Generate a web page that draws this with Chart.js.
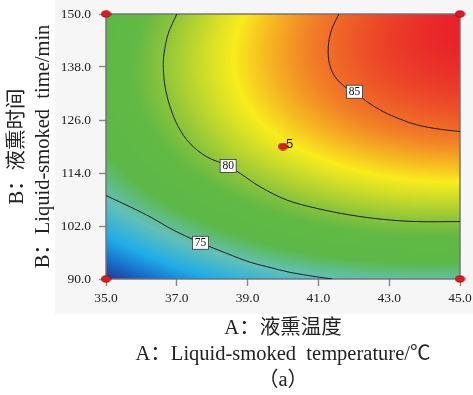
<!DOCTYPE html>
<html>
<head>
<meta charset="utf-8">
<script src="https://cdn.jsdelivr.net/npm/chart.js@4/dist/chart.umd.min.js"></script>
<style>
  html, body { margin: 0; padding: 0; background: #fff; }
</style>
</head>
<body>
<canvas id="c" width="473" height="395"></canvas>
<script>
// tick values on both axes
const tempTicks = [35, 37, 39, 41, 43, 45];
const timeTicks = [90, 102, 114, 126, 138, 150];

// response at every tick crossing
// rows: time 90 -> 150, cols: temperature 35 -> 45
const response = [
  [69.9, 72.1, 73.7, 74.8, 75.3, 75.3],
  [73.6, 75.8, 77.6, 78.9, 79.6, 79.7],
  [76.1, 78.5, 80.5, 81.9, 82.8, 83.1],
  [77.5, 80.1, 82.3, 83.9, 85.0, 85.5],
  [77.8, 80.7, 83.0, 84.8, 86.1, 86.7],
  [77.1, 80.2, 82.7, 84.7, 86.1, 87.0]
];

// contour lines (temperature, time)
const c75Temp = [35, 35.77, 36.24, 36.9, 37.67, 38.41, 39.07, 39.54, 40.2, 40.95, 41.4];
const c75Time = [108.9, 106.0, 104.1, 101.1, 98.2, 95.8, 93.8, 92.8, 91.5, 90.5, 90];
const c80Temp = [37.0, 36.76, 36.64, 36.62, 36.67, 36.81, 37.04, 37.37, 37.84, 38.45, 38.79, 39.35, 40.1, 40.95, 41.89, 42.83, 43.78, 45];
const c80Time = [150, 145.6, 141.1, 137.7, 133.5, 129.0, 124.5, 120.7, 117.7, 115.6, 113.9, 110.9, 107.9, 106.0, 104.5, 103.5, 103.0, 103.0];
const c85Temp = [41.58, 41.37, 41.28, 41.31, 41.47, 41.8, 42.02, 42.36, 42.83, 43.31, 43.78, 44.44, 45];
const c85Time = [150, 146.4, 142.6, 138.8, 135.8, 133.2, 132.4, 130.2, 127.9, 126.2, 124.9, 123.9, 123.4];
const contourLevels = ["75", "80", "85"];
const labelAt = [4, 9, 6];

// design points
const designTemp = [35, 45, 35, 45, 40];
const designTime = [90, 90, 150, 150, 120];
const centerLabel = "5";

// colour map: response value -> rgb
const mapValues = [69.9, 71.5, 73.0, 75.0, 76.8, 79.0, 80.0, 82.6, 84.6, 87.0];
const mapColors = [
  [38, 52, 140], [24, 112, 204], [30, 172, 232], [98, 192, 184], [92, 184, 72],
  [98, 185, 68], [132, 194, 60], [248, 236, 28], [242, 130, 38], [232, 32, 42]
];

const toXY = (xs, ys) => xs.map((v, i) => ({ x: v, y: ys[i] }));
const serif = "'Liberation Serif', 'Noto Sans CJK SC', serif";

// padded grid so the bicubic patch has neighbours at the edges
function paddedGrid() {
  const ny = response.length, nx = response[0].length;
  const rows = response.map(r => {
    const a = 3 * r[0] - 3 * r[1] + r[2];
    const b = 3 * r[nx - 1] - 3 * r[nx - 2] + r[nx - 3];
    return [a, ...r, b];
  });
  const top = rows[0].map((_, i) => 3 * rows[0][i] - 3 * rows[1][i] + rows[2][i]);
  const bot = rows[0].map((_, i) => 3 * rows[ny - 1][i] - 3 * rows[ny - 2][i] + rows[ny - 3][i]);
  return [top, ...rows, bot];
}
const grid = paddedGrid();

function cr(p0, p1, p2, p3, t) {
  return 0.5 * (2 * p1 + (p2 - p0) * t + (2 * p0 - 5 * p1 + 4 * p2 - p3) * t * t + (3 * p1 - p0 - 3 * p2 + p3) * t * t * t);
}

function surface(temp, time) {
  const nx = tempTicks.length, ny = timeTicks.length;
  let u = (temp - tempTicks[0]) / (tempTicks[1] - tempTicks[0]);
  let v = (time - timeTicks[0]) / (timeTicks[1] - timeTicks[0]);
  u = Math.min(Math.max(u, 0), nx - 1);
  v = Math.min(Math.max(v, 0), ny - 1);
  const i = Math.min(Math.floor(u), nx - 2), j = Math.min(Math.floor(v), ny - 2);
  const tu = u - i, tv = v - j;
  const col = [];
  for (let k = 0; k < 4; k++) {
    const r = grid[j + k];
    col.push(cr(r[i], r[i + 1], r[i + 2], r[i + 3], tu));
  }
  return cr(col[0], col[1], col[2], col[3], tv);
}

function colorFor(val) {
  if (val <= mapValues[0]) return mapColors[0];
  for (let k = 1; k < mapValues.length; k++) {
    if (val <= mapValues[k]) {
      const t = (val - mapValues[k - 1]) / (mapValues[k] - mapValues[k - 1]);
      const a = mapColors[k - 1], b = mapColors[k];
      return [a[0] + (b[0] - a[0]) * t, a[1] + (b[1] - a[1]) * t, a[2] + (b[2] - a[2]) * t];
    }
  }
  return mapColors[mapColors.length - 1];
}

// red ellipse used for the design points
function dotStyle() {
  const c = document.createElement("canvas");
  c.width = 11; c.height = 8;
  const g = c.getContext("2d");
  g.beginPath();
  g.ellipse(5.5, 4, 4.6, 3.2, 0, 0, Math.PI * 2);
  g.fillStyle = "#e3191f";
  g.fill();
  g.lineWidth = 0.8;
  g.strokeStyle = "#8a1010";
  g.stroke();
  return c;
}

let fieldImage = null;
const fieldPlugin = {
  id: "field",
  beforeDraw(chart) {
    const { ctx, chartArea: a } = chart;
    ctx.save();
    ctx.fillStyle = "#f6f6f6";
    ctx.fillRect(a.left - 51, 0, chart.width - a.left + 51, a.bottom + 35);
    ctx.restore();
  },
  beforeDatasetsDraw(chart) {
    const { ctx, chartArea: a, scales: { x, y } } = chart;
    const w = Math.round(a.right - a.left), h = Math.round(a.bottom - a.top);
    if (!fieldImage) {
      fieldImage = document.createElement("canvas");
      fieldImage.width = w; fieldImage.height = h;
      const octx = fieldImage.getContext("2d");
      const img = octx.createImageData(w, h);
      for (let py = 0; py < h; py++) {
        const time = y.getValueForPixel(a.top + py + 0.5);
        for (let px = 0; px < w; px++) {
          const temp = x.getValueForPixel(a.left + px + 0.5);
          const c = colorFor(surface(temp, time));
          const o = (py * w + px) * 4;
          img.data[o] = c[0]; img.data[o + 1] = c[1]; img.data[o + 2] = c[2]; img.data[o + 3] = 255;
        }
      }
      octx.putImageData(img, 0, 0);
    }
    ctx.drawImage(fieldImage, a.left, a.top, w, h);
    ctx.save();
    ctx.strokeStyle = "#707070";
    ctx.lineWidth = 1.4;
    ctx.strokeRect(a.left, a.top, a.right - a.left, a.bottom - a.top);
    ctx.restore();
  },
  afterDatasetsDraw(chart) {
    const { ctx } = chart;
    ctx.save();
    ctx.font = "11.5px " + serif;
    ctx.textAlign = "center";
    ctx.textBaseline = "middle";
    contourLevels.forEach((lvl, d) => {
      const p = chart.getDatasetMeta(d).data[labelAt[d]];
      const bw = 16, bh = 13;
      ctx.fillStyle = "#fff";
      ctx.fillRect(p.x - bw / 2, p.y - bh / 2, bw, bh);
      ctx.strokeStyle = "#333";
      ctx.lineWidth = 0.8;
      ctx.strokeRect(p.x - bw / 2, p.y - bh / 2, bw, bh);
      ctx.fillStyle = "#111";
      ctx.fillText(lvl, p.x, p.y + 0.5);
    });
    const c = chart.getDatasetMeta(3).data[4];
    ctx.font = "13px 'Liberation Sans', sans-serif";
    ctx.textAlign = "left";
    ctx.fillText(centerLabel, c.x + 3, c.y - 2);
    ctx.restore();
  }
};

const contourStyle = { type: "line", showLine: true, pointRadius: 0, borderColor: "#1e1e1e", borderWidth: 1, tension: 0.35, fill: false };

new Chart(document.getElementById("c"), {
  type: "scatter",
  data: {
    datasets: [
      { ...contourStyle, data: toXY(c75Temp, c75Time) },
      { ...contourStyle, data: toXY(c80Temp, c80Time) },
      { ...contourStyle, data: toXY(c85Temp, c85Time) },
      { data: toXY(designTemp, designTime), pointStyle: dotStyle(), pointRadius: 5, clip: false }
    ]
  },
  options: {
    responsive: false,
    animation: false,
    devicePixelRatio: 1,
    layout: { padding: { top: 14, right: 13, left: 0, bottom: 0 } },
    plugins: {
      legend: { display: false },
      tooltip: { enabled: false }
    },
    scales: {
      x: {
        type: "linear", min: 35, max: 45,
        afterBuildTicks: s => { s.ticks = tempTicks.map(v => ({ value: v })); },
        afterFit: s => { s.height = 116; s.paddingLeft = 0; s.paddingRight = 0; },
        ticks: { callback: v => v.toFixed(1), color: "#222", padding: 4, maxRotation: 0, font: { family: serif, size: 13.5 } },
        grid: { drawOnChartArea: false, drawTicks: true, tickLength: 7, tickColor: "#888", tickWidth: 1.4 },
        border: { display: false },
        title: {
          display: true, text: ["A：液熏温度", "A：Liquid-smoked  temperature/℃", "（a）"], color: "#222",
          padding: { top: 0, bottom: 1 }, font: { family: serif, size: 20.5, lineHeight: 1.27 }
        }
      },
      y: {
        type: "linear", min: 90, max: 150,
        afterBuildTicks: s => { s.ticks = timeTicks.map(v => ({ value: v })); },
        afterFit: s => { s.width = 106; s.paddingTop = 0; s.paddingBottom = 0; },
        ticks: { callback: v => v.toFixed(1), color: "#222", padding: 8, font: { family: serif, size: 13.5 } },
        grid: { drawOnChartArea: false, drawTicks: true, tickLength: 7, tickColor: "#888", tickWidth: 1.4 },
        border: { display: false },
        title: {
          display: true, text: ["B：液熏时间", "B：Liquid-smoked  time/min"], color: "#222",
          padding: { top: 4, bottom: 0 }, font: { family: serif, size: 20.5, lineHeight: 1.28 }
        }
      }
    }
  },
  plugins: [fieldPlugin]
});
</script>
</body>
</html>
